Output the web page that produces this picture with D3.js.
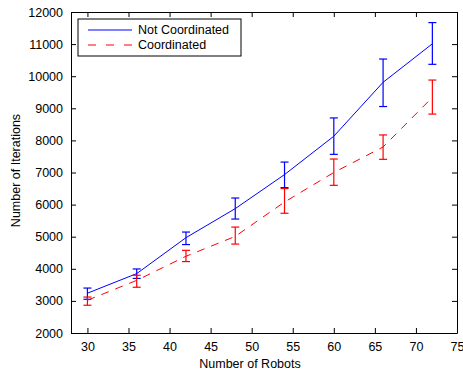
<!DOCTYPE html>
<html>
<head>
<meta charset="utf-8">
<script src="https://cdn.jsdelivr.net/npm/d3@7"></script>
<style>
  body { margin: 0; background: #fff; }
  text { font-family: "Liberation Sans", Arial, sans-serif; }
</style>
</head>
<body>
<div id="chart"></div>
<script>
var robots = [30, 36, 42, 48, 54, 60, 66, 72];

var notCoordMean = [3240, 3850, 4970, 5875, 6935, 8130, 9810, 11010];
var notCoordLow  = [3050, 3700, 4755, 5550, 6530, 7565, 9055, 10370];
var notCoordHigh = [3400, 3995, 5145, 6205, 7325, 8700, 10535, 11670];

var coordMean = [3020, 3640, 4390, 5010, 6080, 7000, 7795, 9340];
var coordLow  = [2865, 3425, 4225, 4770, 5730, 6600, 7410, 8820];
var coordHigh = [3120, 3800, 4575, 5300, 6500, 7420, 8170, 9880];

var xTicks = [30, 35, 40, 45, 50, 55, 60, 65, 70, 75];
var yTicks = [2000, 3000, 4000, 5000, 6000, 7000, 8000, 9000, 10000, 11000, 12000];

var seriesNames = ["Not Coordinated", "Coordinated"];

var margin = { top: 12, right: 6, bottom: 40, left: 71 },
  width = 463 - margin.left - margin.right,
  height = 373 - margin.top - margin.bottom;

var svg = d3
  .select("#chart")
  .append("svg")
  .attr("width", 463)
  .attr("height", 373)
  .append("g")
  .attr("transform", "translate(" + margin.left + "," + margin.top + ")");

var x = d3.scaleLinear().domain([28, 75]).range([0, width]);
var y = d3.scaleLinear().domain([2000, 12000]).range([height, 0]);

// box-style axes, ticks inward
svg.append("g")
  .attr("transform", "translate(0," + height + ")")
  .call(d3.axisBottom(x).tickValues(xTicks).tickSize(-5).tickPadding(9).tickSizeOuter(0))
  .call(function (g) {
    g.selectAll("text").style("font-size", "12.5px").attr("fill", "#000");
  });

svg.append("g")
  .call(d3.axisLeft(y).tickValues(yTicks).tickSize(-5).tickPadding(8)
    .tickFormat(d3.format("d")).tickSizeOuter(0))
  .call(function (g) {
    g.selectAll("text").style("font-size", "12.5px").attr("fill", "#000");
  });

svg.append("g")
  .call(d3.axisTop(x).tickValues(xTicks).tickSize(-5).tickFormat("").tickSizeOuter(0));

svg.append("g")
  .attr("transform", "translate(" + width + ",0)")
  .call(d3.axisRight(y).tickValues(yTicks).tickSize(-5).tickFormat("").tickSizeOuter(0));

svg.selectAll(".domain").attr("stroke", "#000");

function drawSeries(mean, low, high, color, dash) {
  var pts = robots.map(function (r, i) {
    return { r: r, m: mean[i], lo: low[i], hi: high[i] };
  });

  var line = d3.line()
    .x(function (d) { return x(d.r); })
    .y(function (d) { return y(d.m); });

  svg.append("path")
    .datum(pts)
    .attr("d", line)
    .attr("fill", "none")
    .attr("stroke", color)
    .attr("stroke-width", 1)
    .attr("stroke-dasharray", dash);

  var bars = svg.append("g").selectAll("g")
    .data(pts)
    .enter()
    .append("g")
    .attr("stroke", color)
    .attr("stroke-width", 1.2);

  bars.append("line")
    .attr("x1", function (d) { return x(d.r); })
    .attr("x2", function (d) { return x(d.r); })
    .attr("y1", function (d) { return y(d.lo); })
    .attr("y2", function (d) { return y(d.hi); });

  bars.append("line")
    .attr("x1", function (d) { return x(d.r) - 4; })
    .attr("x2", function (d) { return x(d.r) + 4; })
    .attr("y1", function (d) { return y(d.lo); })
    .attr("y2", function (d) { return y(d.lo); });

  bars.append("line")
    .attr("x1", function (d) { return x(d.r) - 4; })
    .attr("x2", function (d) { return x(d.r) + 4; })
    .attr("y1", function (d) { return y(d.hi); })
    .attr("y2", function (d) { return y(d.hi); });
}

drawSeries(notCoordMean, notCoordLow, notCoordHigh, "#0000ff", null);
drawSeries(coordMean, coordLow, coordHigh, "#ff0000", "8,7");

// axis labels
svg.append("text")
  .attr("x", width / 2 - 14)
  .attr("y", height + 35)
  .style("text-anchor", "middle")
  .style("font-size", "12.5px")
  .text("Number of Robots");

svg.append("text")
  .attr("transform", "rotate(-90)")
  .attr("x", -height / 2 + 2)
  .attr("y", -51)
  .style("text-anchor", "middle")
  .style("font-size", "12.5px")
  .text("Number of Iterations");

// legend
var legend = svg.append("g").attr("transform", "translate(7,7)");

legend.append("rect")
  .attr("width", 163)
  .attr("height", 37)
  .attr("fill", "#fff")
  .attr("stroke", "#000")
  .attr("stroke-width", 1);

var legendColors = ["#0000ff", "#ff0000"];
var legendDash = [null, "8,10"];

seriesNames.forEach(function (name, i) {
  legend.append("line")
    .attr("x1", 10)
    .attr("x2", 54)
    .attr("y1", 11 + i * 15)
    .attr("y2", 11 + i * 15)
    .attr("stroke", legendColors[i])
    .attr("stroke-dasharray", legendDash[i]);

  legend.append("text")
    .attr("x", 60)
    .attr("y", 11 + i * 15)
    .attr("dy", "0.35em")
    .style("font-size", "12.5px")
    .text(name);
});
</script>
</body>
</html>
